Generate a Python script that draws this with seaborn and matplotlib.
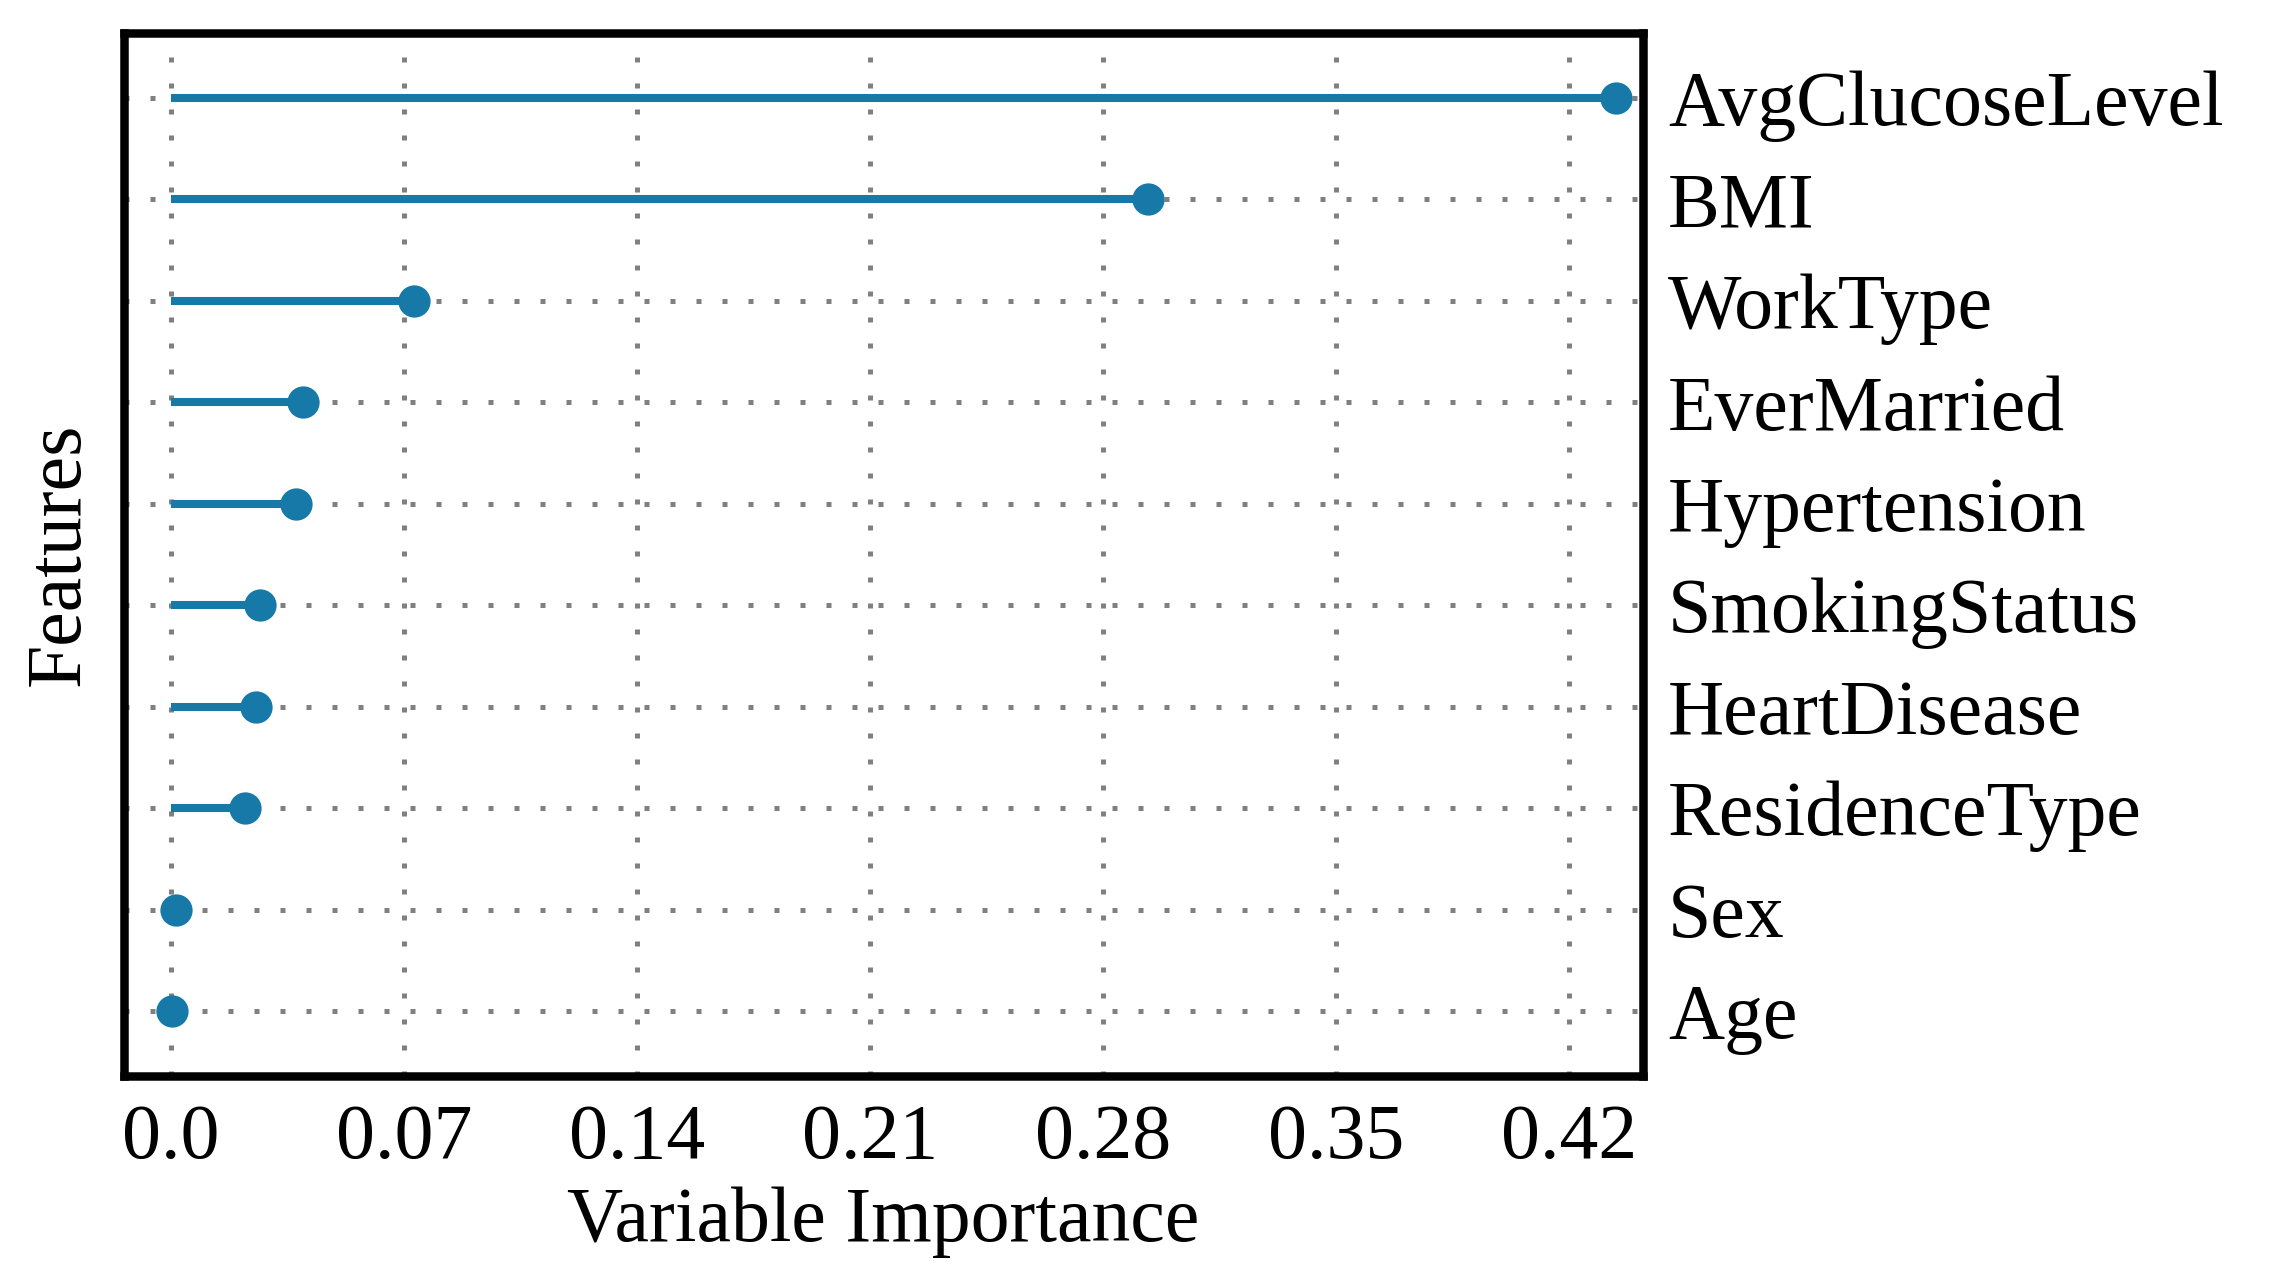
import matplotlib
matplotlib.use("Agg")
import matplotlib.pyplot as plt
import seaborn as sns
import pandas as pd

# Data
features = ["AvgClucoseLevel", "BMI", "WorkType", "EverMarried", "Hypertension",
            "SmokingStatus", "HeartDisease", "ResidenceType", "Sex", "Age"]
importance = [0.434, 0.2935, 0.073, 0.0397, 0.0376,
              0.0267, 0.0255, 0.0224, 0.0014, 0.0002]
xticks = [0.0, 0.07, 0.14, 0.21, 0.28, 0.35, 0.42]
xtick_labels = ["0.0", "0.07", "0.14", "0.21", "0.28", "0.35", "0.42"]

COLOR = "#1679a8"
FS = 28

sns.set_theme(style="white")
plt.rcParams["font.family"] = ["Liberation Serif", "DejaVu Serif"]
plt.rcParams["font.size"] = FS
plt.rcParams["text.color"] = "black"
plt.rcParams["axes.labelcolor"] = "black"
plt.rcParams["xtick.color"] = "black"
plt.rcParams["ytick.color"] = "black"

df = pd.DataFrame({"Feature": features, "Importance": importance})

fig, ax = plt.subplots(figsize=(11.375, 6.44), dpi=200)
fig.subplots_adjust(left=0.0545, right=0.7222, top=0.9744, bottom=0.1646)

# stems
ax.hlines(df["Feature"], 0, df["Importance"], color=COLOR, linewidth=2.9, zorder=2)
# heads
sns.scatterplot(data=df, x="Importance", y="Feature", color=COLOR, s=135,
                linewidth=0, zorder=3, ax=ax)

ax.set_xlim(-0.0141, 0.4422)
ax.set_ylim(len(features) - 1 + 0.64, -0.64)
ax.set_xticks(xticks)
ax.set_xticklabels(xtick_labels)

ax.set_axisbelow(True)
ax.grid(True, color="#808080", linewidth=1.8, linestyle=(0, (1, 4.2)))

ax.yaxis.tick_right()
ax.yaxis.set_label_position("left")
ax.tick_params(axis="y", length=0, pad=9, labelsize=FS)
ax.tick_params(axis="x", length=0, pad=10, labelsize=FS)

for s in ax.spines.values():
    s.set_linewidth(3.06)
    s.set_color("black")

ax.set_xlabel("Variable Importance", fontsize=FS, labelpad=4)
ax.set_ylabel("Features", fontsize=FS, labelpad=10)

fig.savefig("out.png", dpi=200)
